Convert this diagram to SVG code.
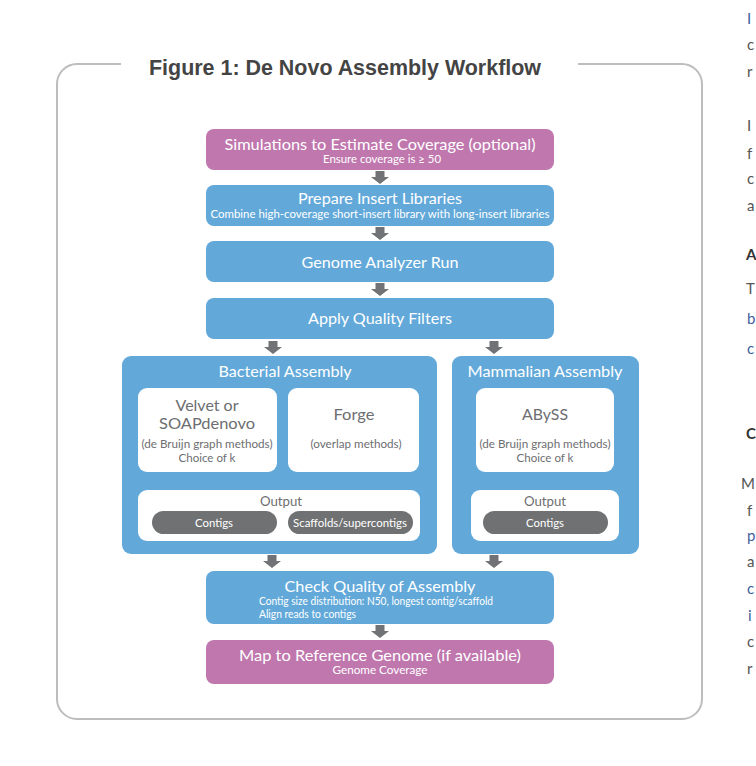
<svg xmlns="http://www.w3.org/2000/svg" width="756" height="766" viewBox="0 0 756 766">
<defs>
<style>
.frame{fill:none;stroke:#bdbdbd;stroke-width:2}
.ttl{font-family:"Liberation Sans",Arial,sans-serif;font-weight:bold;font-size:22px;fill:#444}
.blue{fill:#62a9da}
.pink{fill:#c077ae}
.white{fill:#ffffff}
.pill{fill:#707173}
.arr{fill:#717275}
.h{font-family:Lato,"Open Sans",sans-serif;font-size:16px;fill:#fff;text-anchor:middle}
.s{font-family:Lato,"Open Sans",sans-serif;font-size:11px;fill:#fff;text-anchor:middle}
.sl{font-family:Lato,"Open Sans",sans-serif;font-size:11px;fill:#fff}
.g1{font-family:Lato,"Open Sans",sans-serif;font-size:16px;fill:#6d6e71;text-anchor:middle}
.g2{font-family:Lato,"Open Sans",sans-serif;font-size:11px;fill:#6d6e71;text-anchor:middle}
.g3{font-family:Lato,"Open Sans",sans-serif;font-size:14px;fill:#6d6e71;text-anchor:middle}
.p{font-family:Lato,"Open Sans",sans-serif;font-size:12px;fill:#fff;text-anchor:middle}
.bt{font-family:Lato,"Open Sans",sans-serif;font-size:15px;fill:#555}
.bb{fill:#3f5f9f}
.bh{font-weight:bold;fill:#333}
</style>
<path id="arrow" d="M-4.5,0 H4.5 V6 H9 L0,13 L-9,6 H-4.5 Z"/>
</defs>

<!-- frame -->
<path class="frame" d="M121,64 H77 A20,20 0 0 0 57,84 V699 A20,20 0 0 0 77,719 H682 A20,20 0 0 0 702,699 V84 A20,20 0 0 0 682,64 H578"/>
<text class="ttl" x="149" y="75" textLength="392" lengthAdjust="spacingAndGlyphs">Figure 1: De Novo Assembly Workflow</text>

<!-- connectors -->
<g id="connectors" class="arr">
<use href="#arrow" x="380" y="171"/>
<use href="#arrow" x="380" y="227"/>
<use href="#arrow" x="380" y="283"/>
<use href="#arrow" x="273" y="341"/>
<use href="#arrow" x="494" y="341"/>
<use href="#arrow" x="272" y="555"/>
<use href="#arrow" x="494" y="555"/>
<use href="#arrow" x="380" y="625"/>
</g>

<g id="simulations">
<rect class="pink" x="206" y="129" width="348" height="41" rx="8"/>
<text class="h" x="380" y="150" textLength="311" lengthAdjust="spacingAndGlyphs">Simulations to Estimate Coverage (optional)</text>
<text class="s" x="382" y="163" textLength="118" lengthAdjust="spacingAndGlyphs">Ensure coverage is ≥ 50</text>
</g>

<g id="prepare">
<rect class="blue" x="206" y="185" width="348" height="41" rx="8"/>
<text class="h" x="380" y="204" textLength="164" lengthAdjust="spacingAndGlyphs">Prepare Insert Libraries</text>
<text class="s" x="380" y="218" textLength="339" lengthAdjust="spacingAndGlyphs">Combine high-coverage short-insert library with long-insert libraries</text>
</g>

<g id="genome-analyzer">
<rect class="blue" x="206" y="241" width="348" height="41" rx="8"/>
<text class="h" x="380" y="268" textLength="157" lengthAdjust="spacingAndGlyphs">Genome Analyzer Run</text>
</g>

<g id="quality-filters">
<rect class="blue" x="206" y="298" width="348" height="41" rx="8"/>
<text class="h" x="380" y="324" textLength="144" lengthAdjust="spacingAndGlyphs">Apply Quality Filters</text>
</g>

<g id="bacterial">
<rect class="blue" x="122" y="356" width="315" height="198" rx="9"/>
<text class="h" x="285" y="377" textLength="133" lengthAdjust="spacingAndGlyphs">Bacterial Assembly</text>
<g id="velvet">
<rect class="white" x="138" y="388" width="139" height="84" rx="9"/>
<text class="g1" x="207" y="411" textLength="63" lengthAdjust="spacingAndGlyphs">Velvet or</text>
<text class="g1" x="207" y="429" textLength="96" lengthAdjust="spacingAndGlyphs">SOAPdenovo</text>
<text class="g2" x="207" y="448" textLength="131" lengthAdjust="spacingAndGlyphs">(de Bruijn graph methods)</text>
<text class="g2" x="207" y="462" textLength="57" lengthAdjust="spacingAndGlyphs">Choice of k</text>
</g>
<g id="forge">
<rect class="white" x="288" y="388" width="131" height="84" rx="9"/>
<text class="g1" x="354" y="420" textLength="41" lengthAdjust="spacingAndGlyphs">Forge</text>
<text class="g2" x="356" y="448" textLength="91" lengthAdjust="spacingAndGlyphs">(overlap methods)</text>
</g>
<g id="bact-output">
<rect class="white" x="138" y="490" width="282" height="51" rx="9"/>
<text class="g3" x="281" y="506" textLength="42" lengthAdjust="spacingAndGlyphs">Output</text>
<rect class="pill" x="152" y="511" width="125" height="23" rx="11.5"/>
<text class="p" x="214" y="527" textLength="38" lengthAdjust="spacingAndGlyphs">Contigs</text>
<rect class="pill" x="288" y="511" width="125" height="23" rx="11.5"/>
<text class="p" x="350" y="527" textLength="114" lengthAdjust="spacingAndGlyphs">Scaffolds/supercontigs</text>
</g>
</g>

<g id="mammalian">
<rect class="blue" x="452" y="356" width="187" height="198" rx="9"/>
<text class="h" x="545" y="377" textLength="155" lengthAdjust="spacingAndGlyphs">Mammalian Assembly</text>
<g id="abyss">
<rect class="white" x="476" y="388" width="138" height="84" rx="9"/>
<text class="g1" x="545" y="420" textLength="46" lengthAdjust="spacingAndGlyphs">ABySS</text>
<text class="g2" x="545" y="448" textLength="131" lengthAdjust="spacingAndGlyphs">(de Bruijn graph methods)</text>
<text class="g2" x="545" y="462" textLength="57" lengthAdjust="spacingAndGlyphs">Choice of k</text>
</g>
<g id="mamm-output">
<rect class="white" x="471" y="490" width="148" height="51" rx="9"/>
<text class="g3" x="545" y="506" textLength="42" lengthAdjust="spacingAndGlyphs">Output</text>
<rect class="pill" x="483" y="511" width="125" height="23" rx="11.5"/>
<text class="p" x="545" y="527" textLength="38" lengthAdjust="spacingAndGlyphs">Contigs</text>
</g>
</g>

<g id="check-quality">
<rect class="blue" x="206" y="571" width="348" height="53" rx="8"/>
<text class="h" x="380" y="592" textLength="191" lengthAdjust="spacingAndGlyphs">Check Quality of Assembly</text>
<text class="sl" x="259" y="605" textLength="234" lengthAdjust="spacingAndGlyphs">Contig size distribution: N50, longest contig/scaffold</text>
<text class="sl" x="259" y="618" textLength="97" lengthAdjust="spacingAndGlyphs">Align reads to contigs</text>
</g>

<g id="map-reference">
<rect class="pink" x="206" y="640" width="348" height="44" rx="8"/>
<text class="h" x="380" y="661" textLength="282" lengthAdjust="spacingAndGlyphs">Map to Reference Genome (if available)</text>
<text class="s" x="380" y="674" textLength="95" lengthAdjust="spacingAndGlyphs">Genome Coverage</text>
</g>

<!-- cropped body text at right edge -->
<g class="bt">
<text x="747" y="24" class="bb">I</text>
<text x="747" y="50">c</text>
<text x="747" y="77">r</text>
<text x="747" y="131">I</text>
<text x="747" y="159">f</text>
<text x="747" y="184">c</text>
<text x="747" y="211">a</text>
<text x="746" y="260" class="bh">A</text>
<text x="746" y="294">T</text>
<text x="747" y="324" class="bb">b</text>
<text x="747" y="354" class="bb">c</text>
<text x="746" y="439" class="bh">C</text>
<text x="741" y="489">M</text>
<text x="747" y="516">f</text>
<text x="747" y="541" class="bb">p</text>
<text x="747" y="567">a</text>
<text x="747" y="594" class="bb">c</text>
<text x="748" y="621" class="bb">i</text>
<text x="747" y="647">c</text>
<text x="747" y="674">r</text>
</g>
</svg>
